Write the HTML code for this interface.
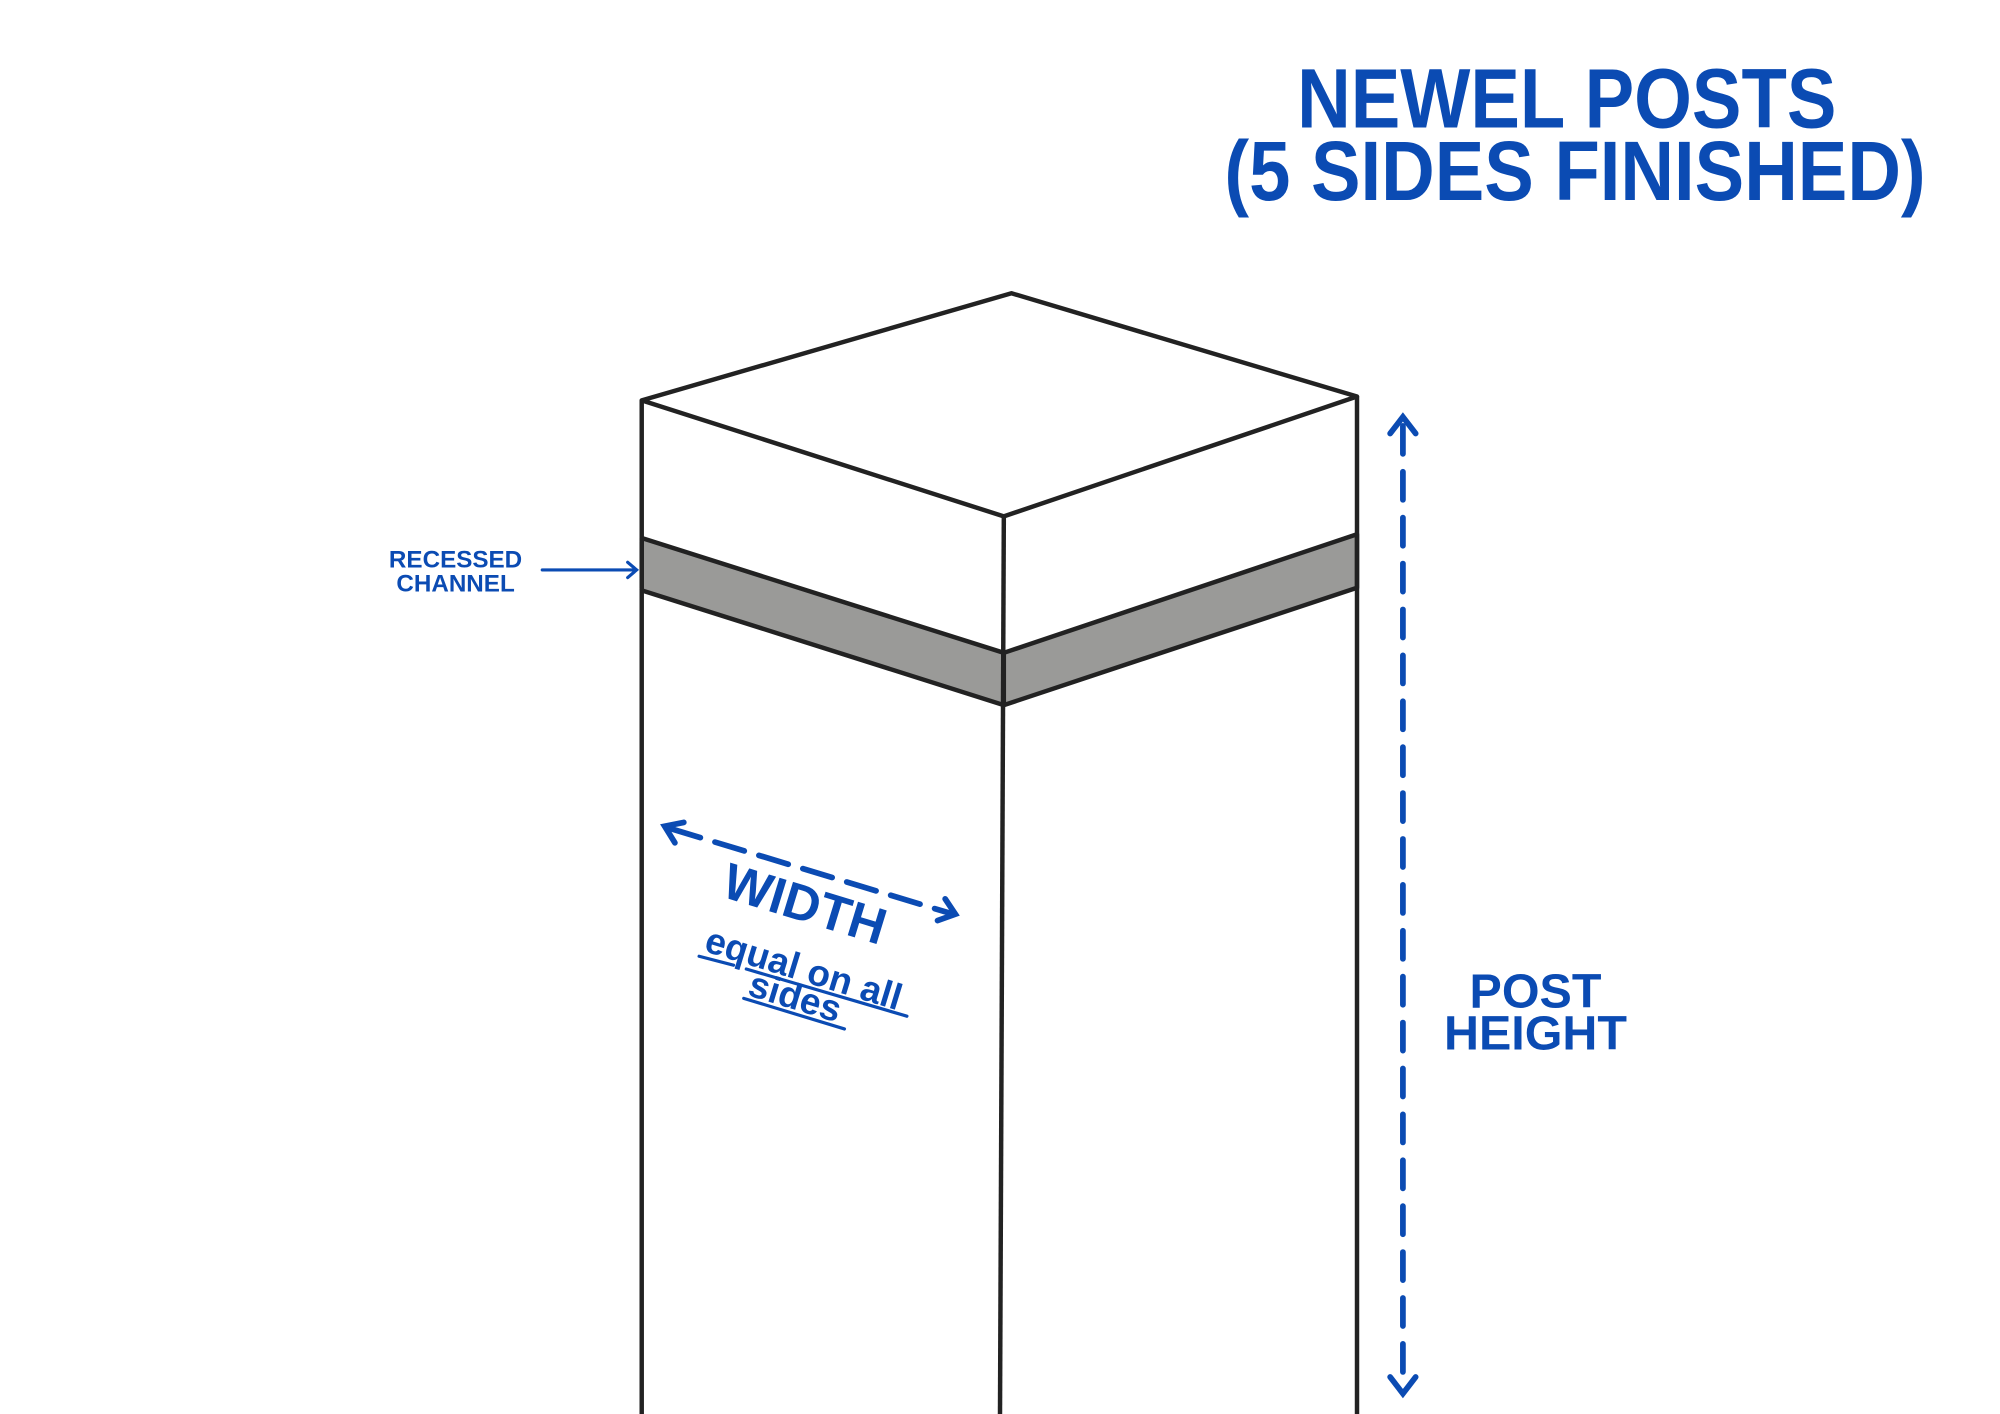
<!DOCTYPE html>
<html><head><meta charset="utf-8"><style>
html,body{margin:0;padding:0;background:#fff;}
svg{display:block;}
text{font-family:"Liberation Sans","DejaVu Sans",sans-serif;font-weight:bold;fill:#0b4bb3;}
</style></head><body>
<svg width="2000" height="1414" viewBox="0 0 1568 1109" xmlns="http://www.w3.org/2000/svg">
<rect width="1568" height="1109" fill="#fff"/>
<g stroke="#222" stroke-width="3.5" fill="none" stroke-linejoin="round">
<polygon points="503,422 787,512 787,553 503,463" fill="#9a9a98"/>
<polygon points="787,512 1064,419 1064,461 787,553" fill="#9a9a98"/>
<polygon points="503,314 793,230 1064,311 787,405"/>
<line x1="503" y1="314" x2="503" y2="1109"/>
<line x1="1064" y1="311" x2="1064" y2="1109"/>
<line x1="787" y1="405" x2="784" y2="1109"/>
</g>
<g stroke="#0b4bb3" stroke-width="4.5" fill="none" stroke-linecap="round">
<line x1="1100" y1="334" x2="1100" y2="1086" stroke-dasharray="22,14"/>
<polyline points="1090,340 1100,327 1110,340"/>
<polyline points="1090,1080 1100,1093 1110,1080"/>
<line x1="526" y1="650" x2="744" y2="716" stroke-dasharray="24,12"/>
<polyline points="529,661 521,648 536,645"/>
<polyline points="741,705 749,717 735,722"/>
<line x1="425" y1="447" x2="498" y2="447" stroke-width="2.5"/>
<polyline points="492,441 499,447 492,453" stroke-width="2.5"/>
<line x1="548" y1="750" x2="575" y2="757" stroke-width="2.5"/>
<line x1="585" y1="760" x2="711" y2="797" stroke-width="2.5"/>
<line x1="583" y1="783" x2="662" y2="807" stroke-width="2.5"/>
</g>
<text x="1017" y="100" font-size="66" textLength="423" lengthAdjust="spacingAndGlyphs">NEWEL POSTS</text>
<text x="960" y="157" font-size="66" textLength="550" lengthAdjust="spacingAndGlyphs">(5 SIDES FINISHED)</text>
<text x="357" y="445" font-size="19" text-anchor="middle">RECESSED</text>
<text x="357" y="464" font-size="19" text-anchor="middle">CHANNEL</text>
<text x="1204" y="790" font-size="38" text-anchor="middle">POST</text>
<text x="1204" y="823" font-size="38" text-anchor="middle">HEIGHT</text>
<g transform="translate(627,722) rotate(17)">
<text x="0" y="0" font-size="40" text-anchor="middle">WIDTH</text>
<text x="14" y="45" font-size="29" text-anchor="middle">equal on all</text>
<text x="14" y="68" font-size="29" text-anchor="middle">sides</text>
</g>
</svg>
</body></html>
